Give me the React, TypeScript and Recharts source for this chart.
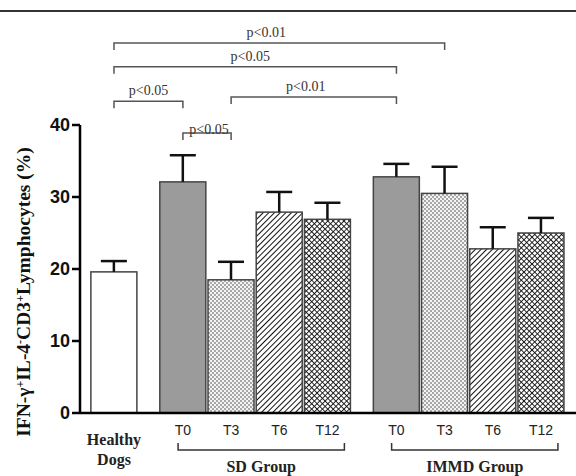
import React from 'react';
import { BarChart, Bar, XAxis, YAxis, ReferenceLine } from 'recharts';

// bars, left to right
const barLabels = ['Healthy Dogs', 'T0', 'T3', 'T6', 'T12', 'T0', 'T3', 'T6', 'T12'];
const barGroups = [0, 1, 1, 1, 1, 2, 2, 2, 2];
const meanValues = [19.6, 32.1, 18.5, 27.9, 26.9, 32.8, 30.5, 22.8, 25.0];
const semValues = [1.5, 3.7, 2.5, 2.8, 2.3, 1.8, 3.7, 3.0, 2.1];
const yTicks = [0, 10, 20, 30, 40];

const groupNames = ['SD Group', 'IMMD Group'];
const groupFirstBar = [1, 5];
const groupLastBar = [4, 8];

// significance comparisons between bars (by index)
const comparisonFrom = [0, 0, 0, 2, 1];
const comparisonTo = [6, 5, 1, 5, 2];
const comparisonText = ['p<0.01', 'p<0.05', 'p<0.05', 'p<0.01', 'p<0.05'];

// layout / style
const W = 576;
const H = 476;
const GROUP_GAP = 0.43;
const bracketLevels = [51.4, 48.1, 43.3, 43.9, 38.9];
const bracketLabelDy = [-6, -6, -6, -6, 1];
const bracketLabelDx = [-13, -5, 0, -8, 2];
const groupBracketLevel = -5.14;
const barFills = ['#ffffff', '#9b9b9b', 'url(#dots)', 'url(#hatch)', 'url(#cross)', '#9b9b9b', 'url(#dots)', 'url(#hatch)', 'url(#cross)'];

const SERIF = "'Liberation Serif', 'Times New Roman', serif";
const SANS = "'Liberation Sans', Arial, sans-serif";
const NARROW = "'Liberation Sans Narrow', 'Arial Narrow', 'Liberation Sans', sans-serif";

const xPos = barLabels.map((_, i) => i + barGroups[i] * GROUP_GAP);

const data = barLabels.map((label, i) => ({
  idx: i,
  pos: xPos[i],
  label,
  mean: meanValues[i],
  sem: semValues[i],
}));

const BarWithError = (props: any) => {
  const { x, y, width, height, payload } = props;
  const pxPerUnit = height / payload.mean;
  const errTop = y - payload.sem * pxPerUnit;
  const cx = x + width / 2;
  return (
    <g>
      <rect x={x} y={y} width={width} height={height} fill={barFills[payload.idx]} stroke="#444" strokeWidth={1.5} />
      <line x1={cx} y1={y} x2={cx} y2={errTop} stroke="#111" strokeWidth={2.5} />
      <line x1={cx - 13} y1={errTop} x2={cx + 13} y2={errTop} stroke="#111" strokeWidth={2.5} />
    </g>
  );
};

const topBracket = (text: string, dx: number, dy: number) => (p: any) => {
  const { x1, x2, y1 } = p;
  return (
    <g>
      <path d={`M${x1},${y1 + 7} V${y1} H${x2} V${y1 + 7}`} fill="none" stroke="#555" strokeWidth={1.5} />
      <text x={(x1 + x2) / 2 + dx} y={y1 + dy} textAnchor="middle" fontFamily={SERIF} fontSize={14} fill="#333">
        {text}
      </text>
    </g>
  );
};

const groupBracket = (text: string) => (p: any) => {
  const { x1, x2, y1 } = p;
  return (
    <g>
      <path d={`M${x1},${y1 - 7} V${y1} H${x2} V${y1 - 7}`} fill="none" stroke="#333" strokeWidth={1.5} />
      <text x={(x1 + x2) / 2} y={y1 + 22} textAnchor="middle" fontFamily={SERIF} fontWeight="bold" fontSize={16} fill="#222">
        {text}
      </text>
    </g>
  );
};

const XTick = (props: any) => {
  const { x, y, index } = props;
  if (index === 0) {
    const words = barLabels[0].split(' ');
    return (
      <text textAnchor="middle" fontFamily={SERIF} fontWeight="bold" fontSize={16} fill="#222">
        <tspan x={x} y={y + 32}>{words[0]}</tspan>
        <tspan x={x} y={y + 52}>{words[1]}</tspan>
      </text>
    );
  }
  return (
    <text x={x} y={y + 22} textAnchor="middle" fontFamily={NARROW} fontSize={14} fill="#222">
      {barLabels[index]}
    </text>
  );
};

const YTitle = () => {
  const cx = 30;
  const cy = 292;
  return (
    <text
      x={cx}
      y={cy}
      transform={`rotate(-90, ${cx}, ${cy})`}
      textAnchor="middle"
      fontFamily={SERIF}
      fontWeight="bold"
      fontSize={19.5}
      fill="#111"
    >
      IFN-γ<tspan dy={-6} fontSize={12}>+</tspan>
      <tspan dy={6}>IL-4</tspan>
      <tspan dy={-6} fontSize={12}>-</tspan>
      <tspan dy={6}>CD3</tspan>
      <tspan dy={-6} fontSize={12}>+</tspan>
      <tspan dy={6}>Lymphocytes (%)</tspan>
    </text>
  );
};

export default function App() {
  return (
    <div style={{ position: 'absolute', left: 0, top: 0, width: W, height: H, background: '#fff' }}>
      <div style={{ position: 'absolute', left: 0, top: 10, width: W, height: 2, background: '#333' }} />
      <BarChart width={W} height={H} data={data} margin={{ top: 125, right: 0, bottom: 0, left: 0 }}>
        <defs>
          <pattern id="dots" width="4" height="4" patternUnits="userSpaceOnUse">
            <rect width="4" height="4" fill="#f4f4f4" />
            <rect x="0" y="0" width="2" height="2" fill="#a8a8a8" />
            <rect x="2" y="2" width="2" height="2" fill="#a8a8a8" />
          </pattern>
          <pattern id="hatch" width="4" height="4" patternUnits="userSpaceOnUse" patternTransform="rotate(45)">
            <rect width="4" height="4" fill="#fff" />
            <line x1="0" y1="0" x2="0" y2="4" stroke="#111" strokeWidth="2" />
          </pattern>
          <pattern id="cross" width="3.8" height="3.8" patternUnits="userSpaceOnUse" patternTransform="rotate(45)">
            <rect width="3.8" height="3.8" fill="#fff" />
            <line x1="0" y1="0" x2="0" y2="3.8" stroke="#111" strokeWidth="1.8" />
            <line x1="0" y1="0" x2="3.8" y2="0" stroke="#111" strokeWidth="1.8" />
          </pattern>
        </defs>
        <XAxis
          dataKey="pos"
          type="number"
          domain={[-0.705, 9.585]}
          ticks={xPos}
          interval={0}
          height={63}
          tickLine={false}
          tickSize={0}
          tickMargin={0}
          axisLine={{ stroke: '#000', strokeWidth: 2.5 }}
          tick={<XTick />}
        />
        <YAxis
          domain={[0, 40]}
          ticks={yTicks}
          width={80}
          tickSize={8}
          tickMargin={2}
          axisLine={{ stroke: '#000', strokeWidth: 2.5 }}
          tickLine={{ stroke: '#000', strokeWidth: 2.5 }}
          tick={{ fontFamily: SANS, fontWeight: 'bold', fontSize: 18, fill: '#111' }}
          label={<YTitle />}
        />
        <Bar dataKey="mean" barSize={46} isAnimationActive={false} shape={<BarWithError />} />
        {comparisonText.map((t, i) => (
          <ReferenceLine
            key={`cmp${i}`}
            ifOverflow="visible"
            segment={[
              { x: xPos[comparisonFrom[i]], y: bracketLevels[i] },
              { x: xPos[comparisonTo[i]], y: bracketLevels[i] },
            ]}
            shape={topBracket(t, bracketLabelDx[i], bracketLabelDy[i])}
          />
        ))}
        {groupNames.map((g, i) => (
          <ReferenceLine
            key={`grp${i}`}
            ifOverflow="visible"
            segment={[
              { x: xPos[groupFirstBar[i]] - 0.1, y: groupBracketLevel },
              { x: xPos[groupLastBar[i]] + 0.35, y: groupBracketLevel },
            ]}
            shape={groupBracket(g)}
          />
        ))}
      </BarChart>
    </div>
  );
}
